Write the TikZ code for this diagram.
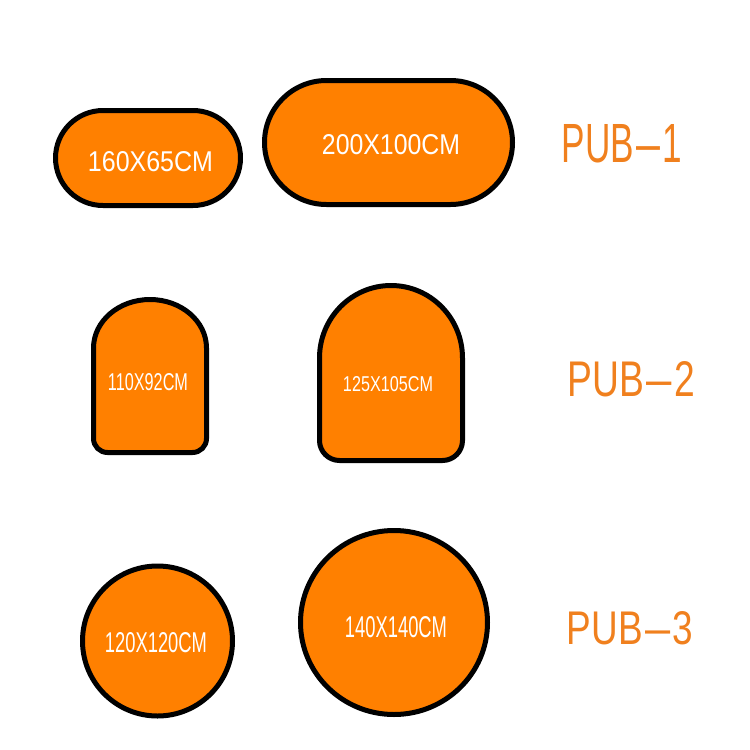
\documentclass[tikz,border=0pt]{standalone}
\usepackage{fontspec}
\setmainfont{Liberation Sans}
\usepackage{graphicx}
\definecolor{rugorange}{RGB}{255,128,0}
\definecolor{puborange}{RGB}{240,128,30}
\newcommand\szlbl[3]{\resizebox{#1pt}{#2pt}{#3}}
\newcommand\pubdash{\kern0.6pt\scalebox{0.68}[1]{—}\kern0.6pt}
\tikzset{
  rug/.style={draw=black, line width=5pt, fill=rugorange, line join=round},
  size/.style={inner sep=0pt, text=white},
  pub/.style={inner sep=0pt, text=puborange}
}
\begin{document}
\begin{tikzpicture}[x=1pt,y=-1pt]
\useasboundingbox (0,0) rectangle (750,750);
% row 1: stadiums
\draw[rug, rounded corners=47.5pt] (55.5,110.5) rectangle (240.5,205.5);
\draw[rug, rounded corners=62pt] (264.5,80.5) rectangle (512.5,204.5);
% row 2: arches
\draw[rug] (93.5,348) arc[start angle=180, end angle=360, x radius=56.5, y radius=48.5]
  -- (206.5,438.5) arc[start angle=0, end angle=90, radius=14]
  -- (107.5,452.5) arc[start angle=90, end angle=180, radius=14] -- cycle;
\draw[rug] (319.5,358) arc[start angle=180, end angle=360, x radius=71.5, y radius=72.5]
  -- (462.5,440.5) arc[start angle=0, end angle=90, radius=20]
  -- (339.5,460.5) arc[start angle=90, end angle=180, radius=20] -- cycle;
% row 3: circles
\draw[rug] (157.5,641) circle[radius=75];
\draw[rug] (394,622.5) ellipse[x radius=93.5, y radius=92];
% labels
\node[size] (l1) at (150.5,161.7) {\szlbl{125}{20}{160X65CM}};
\node[size] (l2) at (391,145) {\szlbl{138}{20}{200X100CM}};
\node[size] (l3) at (148,382) {\szlbl{80}{17}{110X92CM}};
\node[size] (l4) at (388,384) {\szlbl{90}{15}{125X105CM}};
\node[size] (l5) at (156,643) {\szlbl{102}{20}{120X120CM}};
\node[size] (l6) at (396,627.5) {\szlbl{102}{21}{140X140CM}};
\node[pub] (p1) at (622,144) {\szlbl{120}{38}{PUB\pubdash 1}};
\node[pub] (p2) at (631.5,379.5) {\szlbl{127}{35}{PUB\pubdash 2}};
\node[pub] (p3) at (630,628.5) {\szlbl{126}{33}{PUB\pubdash 3}};
\end{tikzpicture}
\end{document}
